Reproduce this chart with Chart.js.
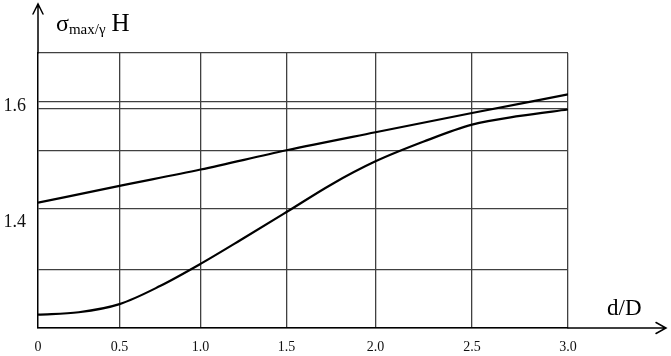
<!DOCTYPE html>
<html>
<head>
<meta charset="utf-8">
<script src="https://cdn.jsdelivr.net/npm/chart.js@4/dist/chart.umd.min.js"></script>
<style>
  html, body { margin: 0; padding: 0; background: #fff; }
  #wrap { width: 671px; height: 356px; }
</style>
</head>
<body>
<div id="wrap"><canvas id="c" width="671" height="356"></canvas></div>
<script>
// ---- data ----
const upperX = [0, 0.5, 1.0, 1.5, 2.0, 2.5, 3.0];
const upperY = [1.434, 1.463, 1.491, 1.524, 1.555, 1.588, 1.620];

const lowerX = [0, 0.25, 0.5, 0.75, 1.0, 1.25, 1.5, 1.75, 2.0, 2.25, 2.5, 2.75, 3.0];
const lowerY = [1.242, 1.246, 1.260, 1.291, 1.329, 1.373, 1.418, 1.465, 1.505, 1.539, 1.568, 1.583, 1.594];

// x axis ticks
const xTickValues = [0, 0.5, 1.0, 1.5, 2.0, 2.5, 3.0];
const xTickLabels = ['0', '0.5', '1.0', '1.5', '2.0', '2.5', '3.0'];

// y axis: labelled ticks and plain grid lines
const yLabelValues = [1.4, 1.6];
const yTickLabels = ['1.4', '1.6'];
const yGridValues = [1.32, 1.423, 1.524, 1.595, 1.607];
const yMin = 1.219, yMax = 1.691;

// the reference's hand-drawn x grid is unevenly spaced: share of axis length at each tick
const xAxisShare = [0, 0.1538, 0.3066, 0.4689, 0.6368, 0.8189, 1];

class WarpedScale extends Chart.LinearScale {
  _warp(d) {
    const n = xTickValues.length - 1;
    const v = d * n;
    let i = Math.min(Math.max(Math.floor(v), 0), n - 1);
    const t = v - i;
    return xAxisShare[i] + t * (xAxisShare[i + 1] - xAxisShare[i]);
  }
  _unwarp(f) {
    const n = xTickValues.length - 1;
    let i = 0;
    while (i < n - 1 && f > xAxisShare[i + 1]) i++;
    const t = (f - xAxisShare[i]) / (xAxisShare[i + 1] - xAxisShare[i]);
    return (i + t) / n;
  }
  getPixelForValue(value) {
    if (value === null || value === undefined) return NaN;
    const d = (value - this._startValue) / this._valueRange;
    return this.getPixelForDecimal(this._warp(d));
  }
  getValueForPixel(pixel) {
    const f = this.getDecimalForPixel(pixel);
    return this._startValue + this._unwarp(f) * this._valueRange;
  }
}
WarpedScale.id = 'warped';
WarpedScale.defaults = Chart.LinearScale.defaults;
Chart.register(WarpedScale);

const SERIF = '"Liberation Serif", "Times New Roman", serif';
const GRID = '#404040';

const decorations = {
  id: 'decorations',
  afterDraw(chart) {
    const ctx = chart.ctx;
    const a = chart.chartArea;
    ctx.save();
    ctx.strokeStyle = '#000';
    ctx.lineWidth = 1.5;
    ctx.lineCap = 'round';
    // y axis extension with arrow
    ctx.beginPath();
    ctx.moveTo(a.left, a.top);
    ctx.lineTo(a.left, 4);
    ctx.moveTo(a.left - 5, 14);
    ctx.lineTo(a.left, 4);
    ctx.lineTo(a.left + 5, 14);
    // x axis extension with arrow
    const tip = chart.width - 5;
    ctx.moveTo(a.right, a.bottom);
    ctx.lineTo(tip, a.bottom);
    ctx.moveTo(tip - 10, a.bottom - 5.5);
    ctx.lineTo(tip, a.bottom);
    ctx.lineTo(tip - 10, a.bottom + 5.5);
    ctx.stroke();

    // axis titles
    ctx.fillStyle = '#000';
    ctx.textBaseline = 'alphabetic';
    ctx.textAlign = 'left';
    let x = a.left + 18;
    const base = a.top - 22.5;
    ctx.font = '24px ' + SERIF;
    ctx.fillText('σ', x, base);
    x += ctx.measureText('σ').width;
    ctx.font = '15px ' + SERIF;
    ctx.fillText('max/γ', x, base + 3);
    x += ctx.measureText('max/γ').width + 6;
    ctx.font = '25px ' + SERIF;
    ctx.fillText('H', x, base);

    ctx.font = '23px ' + SERIF;
    ctx.fillText('d/D', a.right + 39, a.bottom - 13);
    ctx.restore();
  }
};

const toPoints = (xs, ys) => xs.map((x, i) => ({ x: x, y: ys[i] }));

new Chart(document.getElementById('c'), {
  type: 'line',
  data: {
    datasets: [
      {
        data: toPoints(upperX, upperY),
        borderColor: '#000',
        borderWidth: 2.2,
        pointRadius: 0,
        cubicInterpolationMode: 'monotone',
        fill: false
      },
      {
        data: toPoints(lowerX, lowerY),
        borderColor: '#000',
        borderWidth: 2.2,
        pointRadius: 0,
        cubicInterpolationMode: 'monotone',
        fill: false
      }
    ]
  },
  options: {
    responsive: false,
    animation: false,
    events: [],
    layout: { padding: { left: 0, right: 103, top: 53, bottom: 0 } },
    plugins: {
      legend: { display: false },
      title: { display: false },
      tooltip: { enabled: false }
    },
    scales: {
      x: {
        type: 'warped',
        min: 0,
        max: 3.0,
        afterBuildTicks: (s) => { s.ticks = xTickValues.map(v => ({ value: v })); },
        afterFit: (s) => { s.height = 28; },
        grid: {
          drawTicks: false,
          lineWidth: 1.3,
          color: (c) => (c.tick && c.tick.value === 0) ? 'rgba(0,0,0,0)' : GRID
        },
        border: { display: true, color: '#000', width: 1.5 },
        ticks: {
          autoSkip: false,
          maxRotation: 0,
          padding: 11,
          color: '#111',
          font: { family: SERIF, size: 14 },
          callback: (v) => {
            const i = xTickValues.indexOf(v);
            return i >= 0 ? xTickLabels[i] : '';
          }
        }
      },
      y: {
        type: 'linear',
        min: yMin,
        max: yMax,
        afterBuildTicks: (s) => {
          const vals = [yMin, ...yGridValues, ...yLabelValues, yMax].sort((p, q) => p - q);
          s.ticks = vals.map(v => ({ value: v }));
        },
        afterFit: (s) => { s.width = 38; },
        grid: {
          drawTicks: false,
          lineWidth: 1.3,
          color: (c) => (c.tick && yLabelValues.includes(c.tick.value)) ? 'rgba(0,0,0,0)' : GRID
        },
        border: { display: true, color: '#000', width: 1.5 },
        ticks: {
          autoSkip: false,
          padding: 12,
          color: '#111',
          font: { family: SERIF, size: 18 },
          callback: (v) => {
            const i = yLabelValues.indexOf(v);
            return i >= 0 ? yTickLabels[i] : '';
          }
        }
      }
    }
  },
  plugins: [decorations]
});
</script>
</body>
</html>
